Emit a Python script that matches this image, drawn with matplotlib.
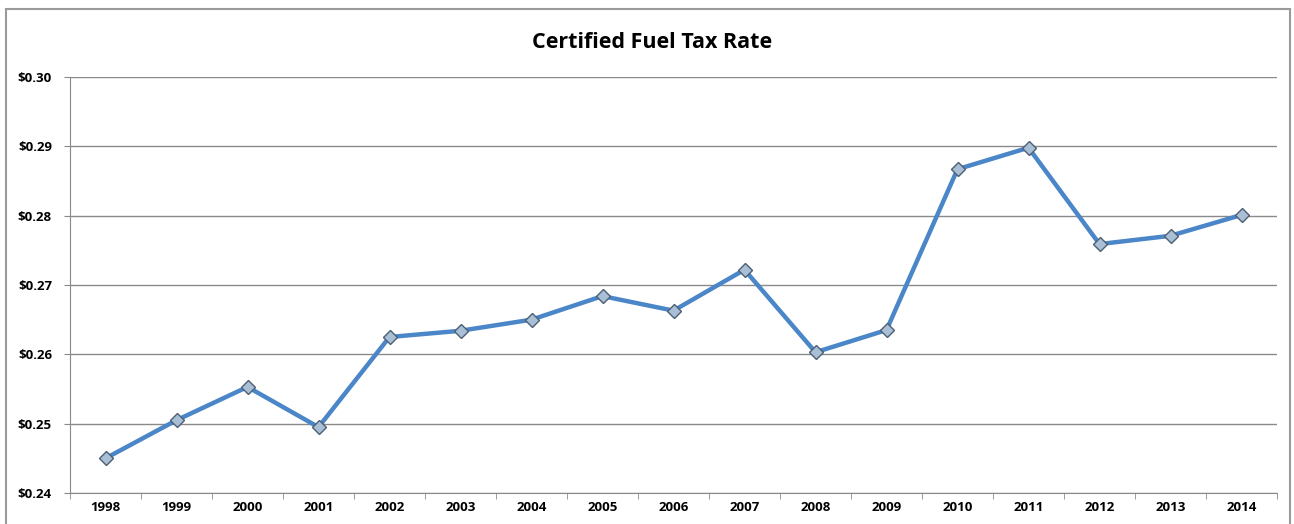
import matplotlib
matplotlib.use("Agg")
import matplotlib.pyplot as plt
from matplotlib.patches import Rectangle

matplotlib.rcParams["font.family"] = ["Open Sans", "DejaVu Sans"]

years = ["1998", "1999", "2000", "2001", "2002", "2003", "2004", "2005", "2006",
         "2007", "2008", "2009", "2010", "2011", "2012", "2013", "2014"]
rates = [0.2450, 0.2505, 0.2553, 0.2495, 0.2625, 0.2634, 0.2650, 0.2684, 0.2663,
         0.2722, 0.2603, 0.2635, 0.2867, 0.2898, 0.2759, 0.2771, 0.2801]
y_ticks = [0.24, 0.25, 0.26, 0.27, 0.28, 0.29, 0.30]
y_labels = ["\\$%.2f" % v for v in y_ticks]

fig = plt.figure(figsize=(12.94, 5.24), dpi=100)
# chart frame
fig.patches.append(Rectangle((6 / 1294, -0.05), 1284 / 1294, 1.05 - 9 / 524,
                             transform=fig.transFigure, fill=False,
                             edgecolor="#9a9a9a", linewidth=1.5))

ax = fig.add_axes([70 / 1294, 1 - 493 / 524, 1207 / 1294, 416 / 524])
x = list(range(len(years)))
ax.plot(x, rates, color="#4a86c8", linewidth=3.2, marker="D", markersize=7,
        markerfacecolor="#a9bfd6", markeredgecolor="#4d5f73", markeredgewidth=1.0,
        zorder=3)

ax.set_xlim(-0.5, len(years) - 0.5)
ax.set_ylim(0.24, 0.30)
ax.set_yticks(y_ticks)
ax.set_yticklabels(y_labels, fontsize=9.5, fontweight="bold")
ax.set_xticks(x)
ax.set_xticklabels(years, fontsize=9.5, fontweight="bold")
ax.set_xticks([i - 0.5 for i in range(len(years) + 1)], minor=True)
ax.tick_params(axis="x", which="major", length=0, pad=6)
ax.tick_params(axis="x", which="minor", length=4, color="#8a8a8a")
ax.tick_params(axis="y", length=4, color="#8a8a8a", pad=9)

ax.grid(axis="y", color="#8a8a8a", linewidth=1.0)
for s in ["top", "right"]:
    ax.spines[s].set_visible(False)
for s in ["left", "bottom"]:
    ax.spines[s].set_color("#8a8a8a")

fig.text(652 / 1294, 1 - 42 / 524, "Certified Fuel Tax Rate", ha="center", va="center",
         fontsize=15.5, fontweight="bold")

fig.savefig("out.png", dpi=100)
